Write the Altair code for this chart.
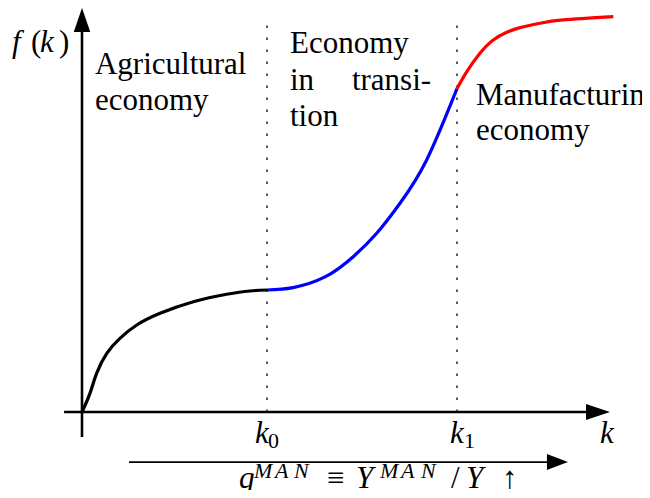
import altair as alt
import pandas as pd

# ---- curve data (k, f(k)); k0 = 1, f(k0) = 1 ----
agri_k = [0.0, 0.043, 0.079, 0.134, 0.205, 0.296, 0.422, 0.602, 0.782, 0.908, 1.0]
agri_f = [0.0, 0.153, 0.317, 0.481, 0.604, 0.713, 0.809, 0.904, 0.965, 0.992, 1.0]

trans_k = [1.0, 1.141, 1.316, 1.466, 1.593, 1.719, 1.863, 2.027]
trans_f = [1.0, 1.020, 1.109, 1.273, 1.465, 1.711, 2.066, 2.65]

manu_k = [2.027, 2.080, 2.151, 2.223, 2.296, 2.368, 2.476, 2.602, 2.872]
manu_f = [2.65, 2.789, 2.940, 3.049, 3.112, 3.150, 3.186, 3.213, 3.240]

segments = ["Agricultural", "Transition", "Manufacturing"]
seg_colors = ["black", "#0000ff", "#ff0000"]

# thresholds k0, k1 and dotted guide height
thresh_k = [1.0, 2.027]
guide_top = 3.172

# axis / arrow geometry in data units
yaxis_k, yaxis_lo, yaxis_hi = 0.0, -0.205, 3.12
xaxis_f, xaxis_lo, xaxis_hi = 0.0, -0.097, 2.73
q_arrow_f, q_arrow_lo, q_arrow_hi = -0.41, 0.254, 2.52
yhead = (0.0, 3.213)
xhead = (2.789, 0.0)
qhead = (2.570, -0.41)

# ---- text labels ----
body_text = ["Agricultural", "economy", "Economy", "in", "transi-", "tion",
             "Manufacturing", "economy"]
body_k = [0.070, 0.070, 1.124, 1.124, 1.459, 1.124, 2.130, 2.130]
body_f = [2.770, 2.475, 2.943, 2.639, 2.639, 2.344, 2.516, 2.230]

math_it_text = ["f", "k", "k", "k", "k", "q", "Y", "Y"]
math_it_k = [-0.378, -0.227, 0.935, 1.989, 2.800, 0.849, 1.481, 2.076]
math_it_f = [2.951, 2.951, -0.254, -0.254, -0.254, -0.622, -0.622, -0.622]

math_up_text = ["(", ")", "≡", "/", "↑"]
math_up_k = [-0.276, -0.124, 1.324, 1.995, 2.270]
math_up_f = [2.951, 2.951, -0.622, -0.622, -0.622]

sub_up_text = ["0", "1"]
sub_up_k = [1.005, 2.065]
sub_up_f = [-0.295, -0.295]

sup_it_text = ["M", "A", "N", "M", "A", "N"]
sup_it_k = [0.930, 1.043, 1.146, 1.611, 1.724, 1.833]
sup_it_f = [-0.540] * 6

# ---- build tables ----
curve = pd.concat([
    pd.DataFrame({"k": agri_k, "f": agri_f, "segment": segments[0]}),
    pd.DataFrame({"k": trans_k, "f": trans_f, "segment": segments[1]}),
    pd.DataFrame({"k": manu_k, "f": manu_f, "segment": segments[2]}),
])

xs = alt.Scale(domain=[-0.4, 3.027], nice=False, zero=False)
ys = alt.Scale(domain=[-0.639, 3.311], nice=False, zero=False)
X = lambda c: alt.X(c, type="quantitative", scale=xs, axis=None)
Y = lambda c: alt.Y(c, type="quantitative", scale=ys, axis=None)

guides = alt.Chart(pd.DataFrame({"k": thresh_k, "lo": [0.0, 0.0], "hi": [guide_top] * 2})).mark_rule(
    color="black", strokeWidth=1.3, strokeDash=[2.5, 9.5]
).encode(x=X("k"), y=Y("lo"), y2="hi")

axes = alt.Chart(pd.DataFrame({
    "k1": [yaxis_k, xaxis_lo], "k2": [yaxis_k, xaxis_hi],
    "f1": [yaxis_lo, xaxis_f], "f2": [yaxis_hi, xaxis_f],
})).mark_rule(color="black", strokeWidth=2.6).encode(x=X("k1"), x2="k2", y=Y("f1"), y2="f2")

qline = alt.Chart(pd.DataFrame({"k1": [q_arrow_lo], "k2": [q_arrow_hi], "f1": [q_arrow_f]})).mark_rule(
    color="black", strokeWidth=1.8).encode(x=X("k1"), x2="k2", y=Y("f1"))

def head(pos, shape, size):
    return alt.Chart(pd.DataFrame({"k": [pos[0]], "f": [pos[1]]})).mark_point(
        shape=shape, size=size, filled=True, color="black", opacity=1, strokeWidth=0
    ).encode(x=X("k"), y=Y("f"))

yarrow = head(yhead, "M0,-1L0.69,1L-0.69,1Z", 576)
xarrow = head(xhead, "M1,0L-1,-0.667L-1,0.667Z", 576)
qarrow = head(qhead, "M1,0L-1,-0.76L-1,0.76Z", 441)

lines = alt.Chart(curve).mark_line(strokeWidth=3.2, interpolate="natural").encode(
    x=X("k"), y=Y("f"),
    color=alt.Color("segment:N", scale=alt.Scale(domain=segments, range=seg_colors), legend=None),
    order="k:Q",
)

FONT = "Liberation Serif"

def texts(txt, kk, ff, size, italic=False):
    props = dict(font=FONT, fontSize=size, align="left", baseline="alphabetic")
    if italic:
        props["fontStyle"] = "italic"
    return alt.Chart(pd.DataFrame({"t": txt, "k": kk, "f": ff})).mark_text(**props).encode(
        x=X("k"), y=Y("f"), text="t:N")

text_layers = [
    texts(body_text, body_k, body_f, 31),
    texts(math_it_text, math_it_k, math_it_f, 31, italic=True),
    texts(math_up_text, math_up_k, math_up_f, 31),
    texts(sub_up_text, sub_up_k, sub_up_f, 22),
    texts(sup_it_text, sup_it_k, sup_it_f, 22, italic=True),
]

# text layers first, then the geometric marks
chart = alt.layer(
    *text_layers, guides, axes, qline, lines, yarrow, xarrow, qarrow
).properties(
    width=634, height=482, padding=0, autosize=alt.AutoSizeParams(type="none"),
    background="white"
).configure_view(stroke=None)

chart.save("out.html", embed_options={"renderer": "svg", "actions": False})
